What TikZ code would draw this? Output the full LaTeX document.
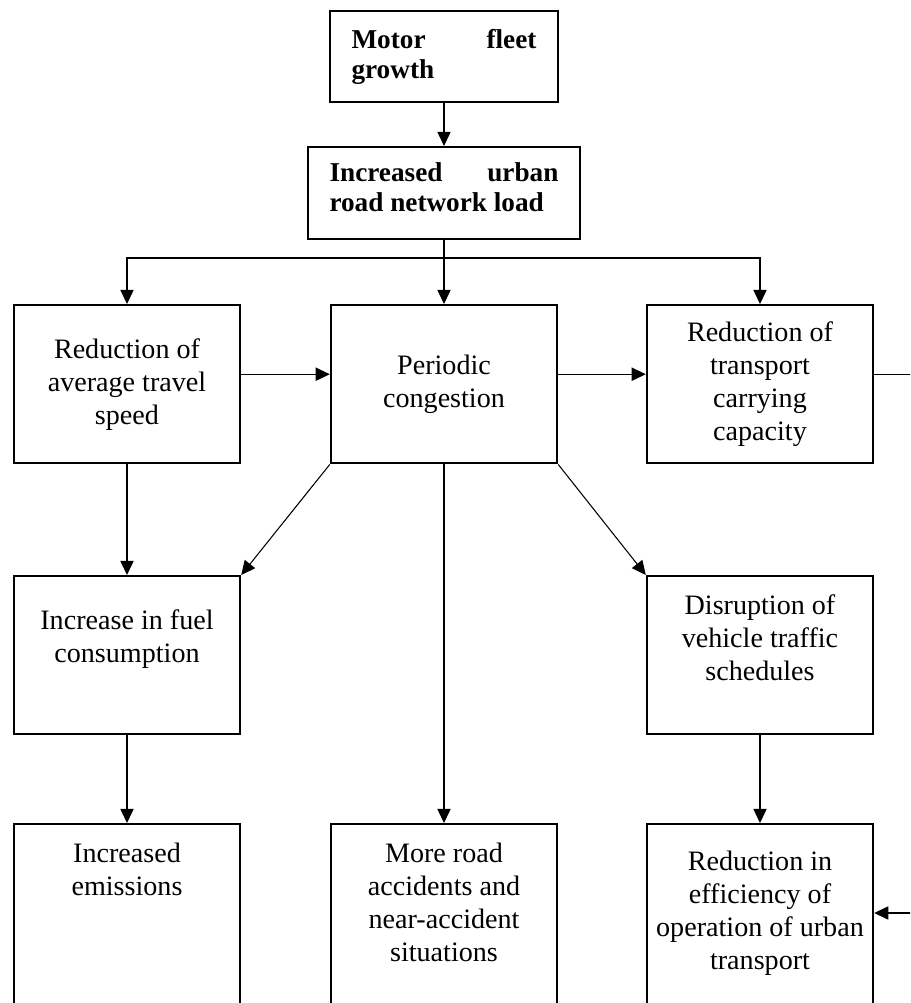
\documentclass[tikz,border=0pt]{standalone}
\usepackage{fontspec}
\setmainfont{Liberation Serif}
\usetikzlibrary{arrows.meta}

\begin{document}
\begin{tikzpicture}[x=0.02cm,y=-0.02cm,
    >={Triangle[length=8pt,width=7.5pt]},
    blk/.style={draw,line width=1.4pt,inner sep=0pt,anchor=north,text width=4.52cm,
      align=flush center,font=\fontsize{16}{18.8}\selectfont},
    hdr/.style={draw,line width=1.4pt,inner xsep=0.43cm,inner ysep=0pt,anchor=north,
      align=flush left,font=\fontsize{15.5}{17.1}\selectfont\bfseries},
    arr/.style={line width=0.6pt,->}]
      \useasboundingbox (0,0) rectangle (910,1003);
      \clip (0,0) rectangle (910,1003);
      \node [hdr,text width=3.7cm,text height=0.74cm,text depth=1.08cm] (A) at (444,10) {Motor\hfill fleet\\growth};
      \node [hdr,text width=4.58cm,text height=0.68cm,text depth=1.16cm] (B) at (444,146) {Increased\hfill urban\\road network load};
      \node [blk,minimum height=3.16cm] (C) at (127,304) {Reduction of\\average travel\\speed};
      \node [blk,minimum height=3.16cm] (D) at (444,304) {Periodic\\congestion};
      \node [blk,minimum height=3.16cm] (E) at (760,304) {Reduction of\\transport\\carrying\\capacity};
      \node [blk,text height=1.06cm,text depth=2.1cm] (F) at (127,575) {Increase in fuel\\consumption};
      \node [blk,text height=0.76cm,text depth=2.4cm] (G) at (760,575) {Disruption of\\vehicle traffic\\schedules};
      \node [blk,text height=0.76cm,text depth=3.24cm] (H) at (127,823) {Increased\\emissions};
      \node [blk,text height=0.76cm,text depth=3.24cm] (I) at (444,823) {More road\\accidents and\\near-accident\\situations};
      \node [blk,text height=0.92cm,text depth=3.08cm] (J) at (760,823) {Reduction in\\efficiency of\\operation of urban\\transport};
      \coordinate (S) at (444,258);
      \coordinate (R) at (918,913);
      \draw [arr] (A) to (B);
      \draw [arr] (B) to (D);
      \draw [arr] (S) -| (C);
      \draw [arr] (S) -| (E);
      \draw [arr] ([yshift=0.2cm]C.east) to ([yshift=0.2cm]D.west);
      \draw [arr] ([yshift=0.2cm]D.east) to ([yshift=0.2cm]E.west);
      \draw [arr] ([yshift=0.2cm]E.east) -| (R) -- (J.east |- R);
      \draw [arr] (C) to (F);
      \draw [arr] (D.south west) to (F.north east);
      \draw [arr] (D.south east) to (G.north west);
      \draw [arr] (D) to (I);
      \draw [arr] (F) to (H);
      \draw [arr] (G) to (J);
    \end{tikzpicture}
\end{document}
